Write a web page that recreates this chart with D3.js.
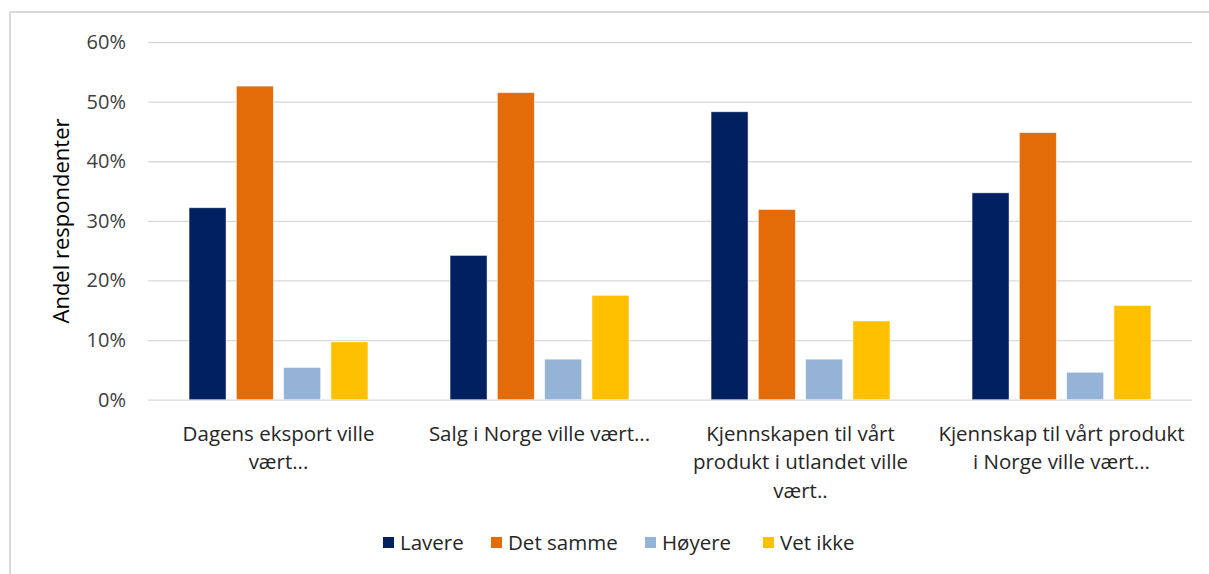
<!DOCTYPE html>
<html>
<head>
<meta charset="utf-8">
<script src="https://cdn.jsdelivr.net/npm/d3@7"></script>
<style>
  html, body { margin: 0; padding: 0; background: #fff; }
  svg { display: block; font-family: "Open Sans", "Noto Sans", sans-serif; }
</style>
</head>
<body>
<svg id="chart" width="1209" height="574"></svg>
<script>
const categories = [
  "Dagens eksport ville vært...",
  "Salg i Norge ville vært...",
  "Kjennskapen til vårt produkt i utlandet ville vært..",
  "Kjennskap til vårt produkt i Norge ville vært..."
];
const tickLines = [
  ["Dagens eksport ville", "vært..."],
  ["Salg i Norge ville vært..."],
  ["Kjennskapen til vårt", "produkt i utlandet ville", "vært.."],
  ["Kjennskap til vårt produkt", "i Norge ville vært..."]
];
const seriesNames = ["Lavere", "Det samme", "Høyere", "Vet ikke"];
const lavere   = [0.322, 0.242, 0.483, 0.347];
const detSamme = [0.526, 0.515, 0.319, 0.448];
const hoyere   = [0.054, 0.068, 0.068, 0.046];
const vetIkke  = [0.097, 0.175, 0.132, 0.158];
const yTicks = [0, 0.1, 0.2, 0.3, 0.4, 0.5, 0.6];
const colors = ["#002060", "#E36C09", "#95B3D7", "#FFC000"];
const yTitle = "Andel respondenter";

(function () {
const FONT = "'Open Sans', 'Noto Sans', sans-serif";
const seriesValues = [lavere, detSamme, hoyere, vetIkke];
const svg = d3.select("#chart");

// frame
svg.append("rect")
  .attr("x", 10).attr("y", 12).attr("width", 1215).attr("height", 580)
  .attr("fill", "#fff").attr("stroke", "#d9d9d9").attr("stroke-width", 2);

const pLeft = 148, pRight = 1192, pTop = 42, pBottom = 399.7;

const x0 = d3.scaleBand().domain(categories).range([pLeft, pRight]).padding(0);
const x1 = d3.scaleBand().domain(seriesNames).range([0, x0.bandwidth()])
  .paddingInner(0.218).paddingOuter(0.868);
const y = d3.scaleLinear().domain([0, 0.6]).range([pBottom, pTop]);

// gridlines + y labels via axis
const yAxis = d3.axisLeft(y).tickValues(yTicks).tickFormat(d3.format(".0%"))
  .tickSize(-(pRight - pLeft)).tickPadding(22);
const gy = svg.append("g").attr("transform", `translate(${pLeft},0)`).call(yAxis);
gy.select(".domain").remove();
gy.selectAll(".tick line").attr("stroke", "#d9d9d9").attr("stroke-width", 1.3);
gy.selectAll(".tick text").attr("fill", "#404040").style("font-size", "20px")
  .style("font-family", FONT);

// bars
const groups = svg.append("g").selectAll("g")
  .data(categories).join("g")
  .attr("transform", d => `translate(${x0(d)},0)`);

groups.selectAll("rect")
  .data((c, i) => seriesNames.map((s, j) => ({ s, v: seriesValues[j][i], j })))
  .join("rect")
  .attr("x", d => x1(d.s))
  .attr("width", x1.bandwidth())
  .attr("y", d => y(d.v))
  .attr("height", d => y(0) - y(d.v))
  .attr("fill", d => colors[d.j])
  .attr("stroke", "#ffffff").attr("stroke-opacity", 0.6).attr("stroke-width", 0.8);

// x labels
const xAxis = d3.axisBottom(x0).tickSize(0).tickFormat("");
const gx = svg.append("g").attr("transform", `translate(0,${pBottom})`).call(xAxis);
gx.select(".domain").remove();
gx.selectAll(".tick").each(function(d, i) {
  const t = d3.select(this).append("text")
    .attr("text-anchor", "middle")
    .attr("fill", "#262626")
    .style("font-size", "20.5px")
    .style("font-family", FONT);
  tickLines[i].forEach((ln, k) => {
    t.append("tspan").attr("x", 0).attr("y", 41 + k * 28.5).text(ln);
  });
});

// y title
svg.append("text")
  .attr("transform", `translate(69,${221}) rotate(-90)`)
  .attr("text-anchor", "middle")
  .attr("fill", "#000")
  .style("font-size", "22px")
  .style("font-family", FONT)
  .text(yTitle);

// legend
const legendX = [383, 491, 645, 763];
const lg = svg.append("g").selectAll("g").data(seriesNames).join("g")
  .attr("transform", (d, i) => `translate(${legendX[i]},537)`);
lg.append("rect").attr("width", 11).attr("height", 11).attr("fill", (d, i) => colors[i]);
lg.append("text").attr("x", 17).attr("y", 13).attr("fill", "#262626")
  .style("font-size", "20.5px").style("font-family", FONT).text(d => d);
})();
</script>
</body>
</html>
